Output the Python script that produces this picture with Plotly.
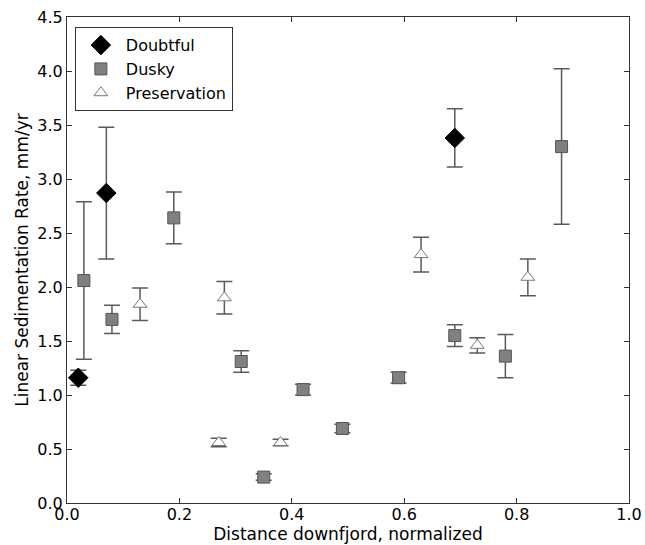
import plotly.graph_objects as go

# Doubtful
doubtful_x = [0.02, 0.07, 0.69]
doubtful_y = [1.16, 2.87, 3.38]
doubtful_err = [0.07, 0.61, 0.27]

# Dusky
dusky_x = [0.03, 0.08, 0.19, 0.31, 0.35, 0.42, 0.49, 0.59, 0.69, 0.78, 0.88]
dusky_y = [2.06, 1.70, 2.64, 1.31, 0.24, 1.05, 0.69, 1.16, 1.55, 1.36, 3.30]
dusky_err = [0.73, 0.13, 0.24, 0.10, 0.03, 0.05, 0.04, 0.05, 0.10, 0.20, 0.72]

# Preservation
pres_x = [0.13, 0.27, 0.28, 0.38, 0.63, 0.73, 0.82]
pres_y = [1.84, 0.56, 1.90, 0.56, 2.30, 1.46, 2.09]
pres_err = [0.15, 0.04, 0.15, 0.03, 0.16, 0.07, 0.17]

x_ticks = [0.0, 0.2, 0.4, 0.6, 0.8, 1.0]
y_ticks = [0.0, 0.5, 1.0, 1.5, 2.0, 2.5, 3.0, 3.5, 4.0, 4.5]

err_color = "#5a5a5a"
font = "DejaVu Sans, sans-serif"

fig = go.Figure()
fig.add_trace(go.Scatter(
    x=doubtful_x, y=doubtful_y, mode="markers", name="Doubtful",
    marker=dict(symbol="diamond", size=15, color="black", line=dict(color="black", width=1)),
    error_y=dict(type="data", array=doubtful_err, color=err_color, thickness=1.5, width=8),
))
fig.add_trace(go.Scatter(
    x=dusky_x, y=dusky_y, mode="markers", name="Dusky",
    marker=dict(symbol="square", size=12, color="#808080", line=dict(color="#555555", width=1)),
    error_y=dict(type="data", array=dusky_err, color=err_color, thickness=1.5, width=8),
))
fig.add_trace(go.Scatter(
    x=pres_x, y=pres_y, mode="markers", name="Preservation",
    marker=dict(symbol="triangle-up", size=12, color="white", line=dict(color="#777777", width=1)),
    error_y=dict(type="data", array=pres_err, color=err_color, thickness=1.5, width=8),
))

axis_common = dict(
    showgrid=False, zeroline=False, showline=True, linecolor="#333333", linewidth=1,
    mirror="allticks", ticks="inside", ticklen=5, tickcolor="#333333",
    tickfont=dict(family=font, size=16, color="black"), automargin=False,
    ticklabeloverflow="allow",
)
fig.update_xaxes(range=[0, 1], tickvals=x_ticks, ticktext=[f"{v:.1f}" for v in x_ticks],
                 ticklabelstandoff=-3,
                 title=dict(text="Distance downfjord, normalized", font=dict(family=font, size=17, color="black"), standoff=3),
                 **axis_common)
fig.update_yaxes(range=[0, 4.5], tickvals=y_ticks, ticktext=[f"{v:.1f}" for v in y_ticks],
                 title=dict(text="Linear Sedimentation Rate, mm/yr", font=dict(family=font, size=17, color="black"), standoff=4),
                 **axis_common)

fig.update_layout(
    width=645, height=545,
    margin=dict(l=67, r=16, t=17, b=42, autoexpand=False),
    plot_bgcolor="white", paper_bgcolor="white",
    font=dict(family=font, size=16, color="black"),
    legend=dict(x=0.014, y=0.979, xanchor="left", yanchor="top",
                bordercolor="#333333", borderwidth=1, bgcolor="white",
                font=dict(family=font, size=16, color="black"),
                tracegroupgap=0, itemsizing="trace", itemwidth=40),
    showlegend=True,
)

# remove the default 8px page margin so the 645x545 figure fills the window exactly
fig.write_html("out.html", config={"displayModeBar": False},
               post_script="document.body.style.margin='0';document.body.style.overflow='hidden';")
